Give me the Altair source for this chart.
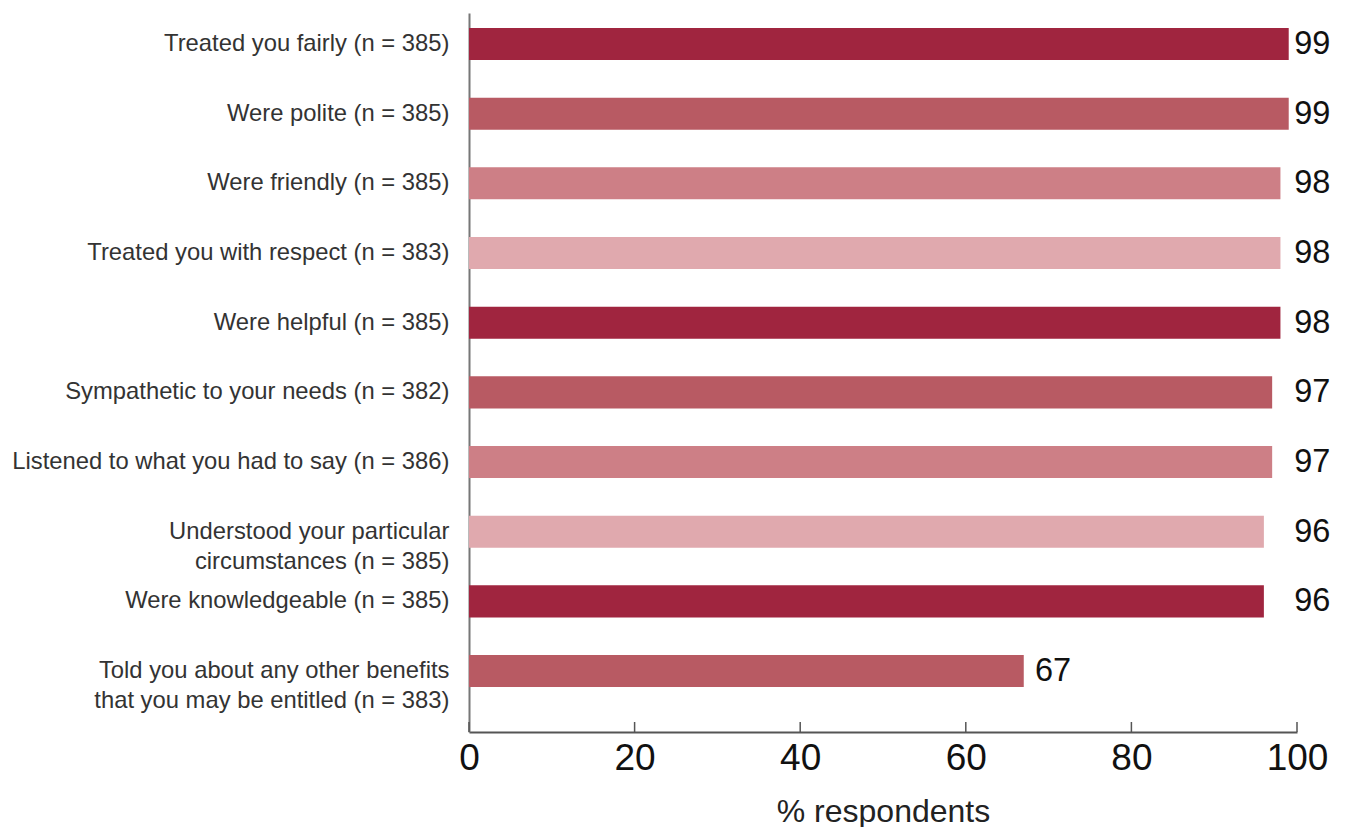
import altair as alt
import pandas as pd

categories = [
    "Treated you fairly (n = 385)",
    "Were polite (n = 385)",
    "Were friendly (n = 385)",
    "Treated you with respect (n = 383)",
    "Were helpful (n = 385)",
    "Sympathetic to your needs (n = 382)",
    "Listened to what you had to say (n = 386)",
    "Understood your particular|circumstances (n = 385)",
    "Were knowledgeable (n = 385)",
    "Told you about any other benefits|that you may be entitled (n = 383)",
]
values = [99, 99, 98, 98, 98, 97, 97, 96, 96, 67]
shades = [0, 1, 2, 3, 0, 1, 2, 3, 0, 1]
shade_colors = ["#A0253F", "#B85A63", "#CD7F86", "#E0A9AE"]
x_ticks = [0, 20, 40, 60, 80, 100]

df = pd.DataFrame({"cat": categories, "value": values, "shade": shades})
ticks_df = pd.DataFrame({"t": x_ticks})

W, H = 828, 719
FONT = "Liberation Sans"

y_enc = alt.Y(
    "cat:N",
    sort=categories,
    scale=alt.Scale(paddingInner=0.54, paddingOuter=0.43, align=0.25),
    axis=alt.Axis(
        title=None,
        ticks=False,
        domainColor="#777777",
        domainWidth=2,
        labelFont=FONT,
        labelFontSize=23.8,
        labelColor="#333333",
        labelPadding=20,
        labelLimit=600,
        labelLineHeight=30,
        labelExpr="split(datum.label, '|')",
    ),
)

x_scale = alt.Scale(domain=[0, 100], nice=False)

bars = alt.Chart(df).mark_bar().encode(
    x=alt.X(
        "value:Q",
        scale=x_scale,
        axis=alt.Axis(
            values=x_ticks,
            title="% respondents",
            grid=False,
            ticks=False,
            labelFlush=False,
            domainColor="#555555",
            domainWidth=2,
            labelFont=FONT,
            labelFontSize=37,
            labelColor="#111111",
            labelPadding=8,
            titleFont=FONT,
            titleFontSize=32,
            titleFontWeight="normal",
            titleColor="#222222",
            titlePadding=20,
        ),
    ),
    y=y_enc,
    color=alt.Color(
        "shade:O",
        scale=alt.Scale(domain=[0, 1, 2, 3], range=shade_colors),
        legend=None,
    ),
)

labels = alt.Chart(df).transform_calculate(
    lx="datum.value > 90 ? 99.3 : datum.value + 1"
).mark_text(
    align="left", baseline="middle", dx=3, font=FONT, fontSize=32.5, color="#111111"
).encode(
    x=alt.X("lx:Q", scale=x_scale),
    y=alt.Y("cat:N", sort=categories),
    text=alt.Text("value:Q"),
)

tick_rules = alt.Chart(ticks_df).mark_rule(color="#555555", strokeWidth=1.5).encode(
    x=alt.X("t:Q", scale=x_scale),
    y=alt.value(H - 10),
    y2=alt.value(H),
)

chart = alt.layer(bars, labels, tick_rules).properties(
    width=W,
    height=H,
    autosize=alt.AutoSizeParams(type="none"),
    padding={"left": 469, "top": 13, "right": 49, "bottom": 95},
).configure(background="white").configure_view(stroke=None)

chart.save("out.html", embed_options={"renderer": "svg", "actions": False})
